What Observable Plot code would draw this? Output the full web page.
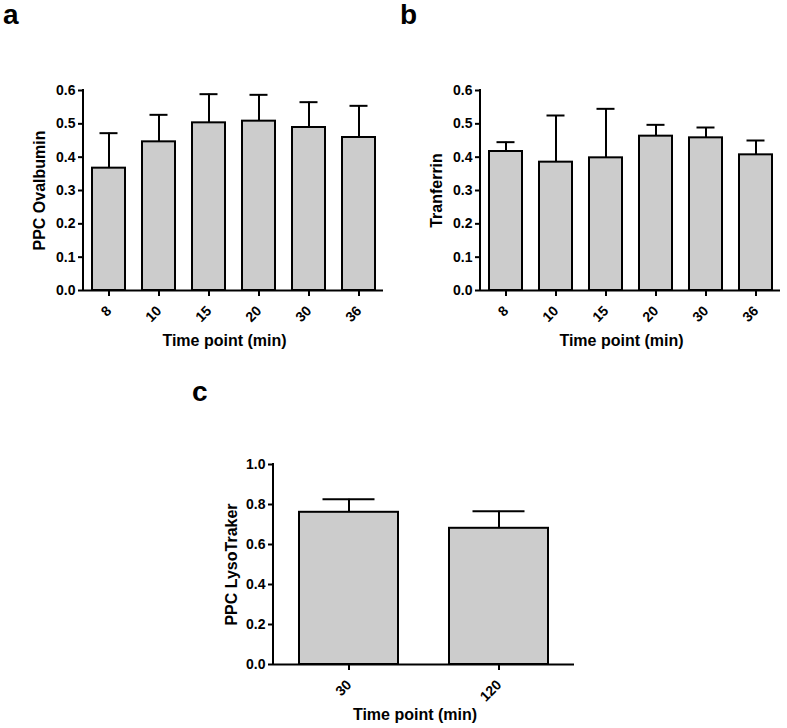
<!DOCTYPE html>
<html>
<head>
<meta charset="utf-8">
<script src="https://cdn.jsdelivr.net/npm/d3@7"></script>
<script src="https://cdn.jsdelivr.net/npm/@observablehq/plot@0.6"></script>
<style>
  html, body { margin: 0; padding: 0; background: #fff; }
  #fig { position: relative; width: 787px; height: 728px; font-family: "Liberation Sans", Arial, sans-serif; font-weight: bold; }
  .panel { position: absolute; }
  .panel svg g[aria-label$="tick label"] { font-size: 14px; font-weight: bold; }
  .letter { position: absolute; font-size: 28px; line-height: 28px; font-weight: bold; color: #000; }
</style>
</head>
<body>
<div id="fig"></div>
<script>
// ---- Data ----
const timesAB = ["8", "10", "15", "20", "30", "36"];
const ovalMean = [0.367, 0.446, 0.503, 0.508, 0.489, 0.459];
const ovalErr  = [0.105, 0.081, 0.086, 0.079, 0.076, 0.095];
const tfMean   = [0.417, 0.385, 0.398, 0.463, 0.458, 0.407];
const tfErr    = [0.028, 0.140, 0.147, 0.034, 0.031, 0.043];
const timesC   = ["30", "120"];
const lysoMean = [0.761, 0.681];
const lysoErr  = [0.065, 0.085];
const ticksAB  = [0, 0.1, 0.2, 0.3, 0.4, 0.5, 0.6];
const ticksC   = [0, 0.2, 0.4, 0.6, 0.8, 1.0];
const xTitle = "Time point (min)";

function makePanel({cats, mean, err, yTicks, yMax, yLabel, width, height, margins, capInset, yLabelOffset}) {
  const data = cats.map((c, i) => ({t: c, v: mean[i], hi: mean[i] + err[i]}));
  const leftLine = (index, scales, values, dims) => {
    const l = d3.create("svg:line")
      .attr("x1", dims.marginLeft).attr("x2", dims.marginLeft)
      .attr("y1", dims.marginTop).attr("y2", dims.height - dims.marginBottom)
      .attr("stroke", "#000").attr("stroke-width", 2).attr("stroke-linecap", "square");
    return l.node();
  };
  return Plot.plot({
    width, height,
    marginLeft: margins[0], marginTop: margins[1], marginRight: margins[2], marginBottom: margins[3],
    style: {fontFamily: "'Liberation Sans', Arial, sans-serif", fontWeight: "bold", fontSize: "14px", color: "#000", background: "transparent"},
    x: {domain: cats, paddingInner: 0.34, paddingOuter: 0.17, label: null},
    y: {domain: [0, yMax], label: null},
    marks: [
      Plot.ruleX(data, {x: "t", y1: "v", y2: "hi", stroke: "#000", strokeWidth: 2}),
      Plot.tickY(data, {x: "t", y: "hi", stroke: "#000", strokeWidth: 2, insetLeft: capInset, insetRight: capInset}),
      Plot.barY(data, {x: "t", y: "v", fill: "#cccccc", stroke: "#000", strokeWidth: 2}),
      Plot.axisY({ticks: yTicks, tickFormat: d3.format(".1f"), tickSize: 5, tickPadding: 3, strokeWidth: 2, fontSize: 14, label: null}),
      Plot.axisX({tickRotate: -45, tickSize: 6, tickPadding: 12, strokeWidth: 2, fontSize: 14, label: null}),
      Plot.ruleY([0], {stroke: "#000", strokeWidth: 2}),
      leftLine,
      Plot.text([yLabel], {frameAnchor: "left", dx: -yLabelOffset, rotate: -90, text: d => d, fontSize: 16, fontWeight: "bold", textAnchor: "middle", lineAnchor: "middle"}),
      Plot.text([xTitle], {frameAnchor: "bottom", dx: -9, dy: 50, text: d => d, fontSize: 16, fontWeight: "bold", lineAnchor: "middle"})
    ]
  });
}

const fig = document.getElementById("fig");
function place(node, left, top) {
  const d = document.createElement("div");
  d.className = "panel";
  d.style.left = left + "px";
  d.style.top = top + "px";
  d.appendChild(node);
  fig.appendChild(d);
}
function letter(ch, left, top) {
  const d = document.createElement("div");
  d.className = "letter";
  d.style.left = left + "px";
  d.style.top = top + "px";
  d.textContent = ch;
  fig.appendChild(d);
}

place(makePanel({cats: timesAB, mean: ovalMean, err: ovalErr, yTicks: ticksAB, yMax: 0.6, yLabel: "PPC Ovalbumin",
  width: 393, height: 360, margins: [83, 90, 10, 70], capInset: 7.5, yLabelOffset: 44}), 0, 0);
place(makePanel({cats: timesAB, mean: tfMean, err: tfErr, yTicks: ticksAB, yMax: 0.6, yLabel: "Tranferrin",
  width: 397, height: 360, margins: [90, 90, 7, 70], capInset: 7.5, yLabelOffset: 44}), 390, 0);
place(makePanel({cats: timesC, mean: lysoMean, err: lysoErr, yTicks: ticksC, yMax: 1.0, yLabel: "PPC LysoTraker",
  width: 420, height: 348, margins: [93, 84, 26, 64], capInset: 23.5, yLabelOffset: 42}), 180, 380);

letter("a", 3, 1);
letter("b", 400, 1);
letter("c", 192, 378);
</script>
</body>
</html>
